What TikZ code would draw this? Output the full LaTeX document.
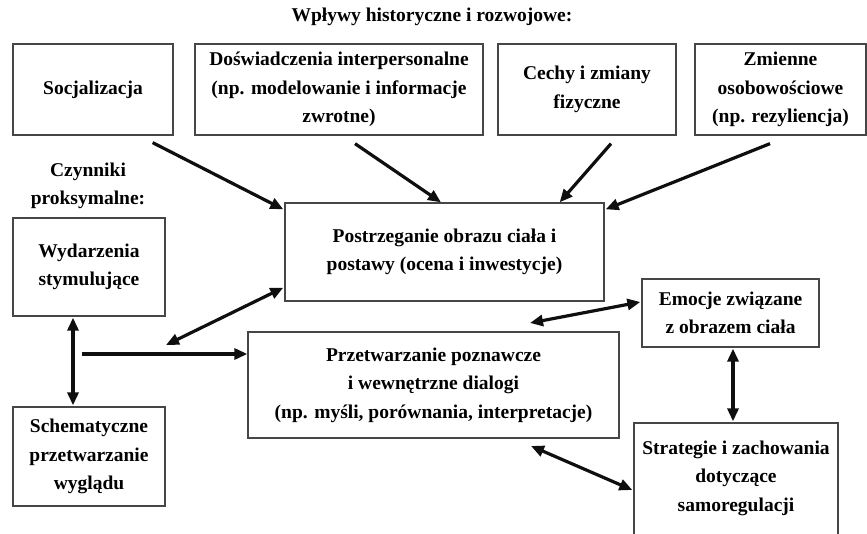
\documentclass[tikz,border=0pt]{standalone}
\usepackage{fontspec}
\setmainfont{Liberation Serif}
\usetikzlibrary{arrows.meta,calc}
\definecolor{boxgray}{RGB}{70,70,70}
\definecolor{arrblack}{RGB}{15,15,15}
\tikzset{
  txt/.style={font=\fontsize{19.5}{28.5}\selectfont\bfseries, align=center, inner sep=0pt, text=black},
  box/.style={txt, draw=boxgray, line width=1.3pt, rectangle},
  arr/.style={draw=arrblack, line width=3.2pt, -{Triangle[length=13pt,width=11pt]}},
  darr/.style={draw=arrblack, line width=3.2pt, {Triangle[length=13pt,width=11pt]}-{Triangle[length=13pt,width=11pt]}}
}
\begin{document}
\begin{tikzpicture}[x=1pt,y=-1pt]
\useasboundingbox (0,0) rectangle (867,534);
\clip (0,0) rectangle (867,534);
% titles
\node[txt] (title) at (432,17) {Wpływy historyczne i rozwojowe:};
\node[txt] (prox) at (88,186) {Czynniki\\proksymalne:};
% top boxes
\node[box, minimum width=160, minimum height=91] (soc) at (93,89.5) {Socjalizacja};
\node[box, minimum width=288, minimum height=91] (dos) at (339,89.5) {Doświadczenia interpersonalne\\(np. modelowanie i informacje\\zwrotne)};
\node[box, minimum width=178, minimum height=91] (cech) at (587,89.5) {Cechy i zmiany\\fizyczne};
\node[box, minimum width=171, minimum height=91] (zm) at (780.5,89.5) {Zmienne\\osobowościowe\\(np. rezyliencja)};
% left boxes
\node[box, minimum width=152, minimum height=98] (wyd) at (89,267) {Wydarzenia\\stymulujące};
\node[box, minimum width=152, minimum height=99] (sch) at (89,456.5) {Schematyczne\\przetwarzanie\\wyglądu};
% central boxes
\node[box, minimum width=319, minimum height=98] (post) at (444.5,252) {Postrzeganie obrazu ciała i\\postawy (ocena i inwestycje)};
\node[box, minimum width=371, minimum height=106] (prz) at (433.5,385) {Przetwarzanie poznawcze\\i wewnętrzne dialogi\\(np. myśli, porównania, interpretacje)};
% right boxes
\node[box, minimum width=177, minimum height=68] (emo) at (730.5,313) {Emocje związane\\z obrazem ciała};
\node[box, minimum width=204, minimum height=117] (str) at (736,481.5) {};
\node[txt] (strt) at ($(str.center)+(0,-3.5)$) {Strategie i zachowania\\dotyczące\\samoregulacji};
% free ends
\coordinate (c6) at (82,354);
\coordinate (c7) at (166,345);
\coordinate (c8) at (530,323);
\coordinate (c10) at (531,446);
% arrows from historical influences
\draw[arr] ($(soc.south east)+(-21,7)$) -- ($(post.north west)+(-1,7)$);
\draw[arr] ($(dos.south)+(16,8)$) -- ($(post.north)+(-3.5,0)$);
\draw[arr] ($(cech.south)+(24,8)$) -- ($(post.north east)+(-45,0)$);
\draw[arr] ($(zm.south)+(-10.5,8)$) -- ($(post.north east)+(1,7)$);
% proximal
\draw[darr] ($(wyd.south)+(-16,1)$) -- ($(sch.north)+(-16,-1)$);
\draw[arr] (c6) -- ($(prz.west)+(0,-31)$);
\draw[darr] (c7) -- ($(post.south west)+(-1,-14)$);
% right side
\draw[darr] (c8) -- ($(emo.west)+(-1,-11)$);
\draw[darr] ($(emo.south)+(2.5,1)$) -- ($(str.north)+(-3,-1)$);
\draw[darr] (c10) -- ($(str.west)+(-1,8.5)$);
\end{tikzpicture}
\end{document}
